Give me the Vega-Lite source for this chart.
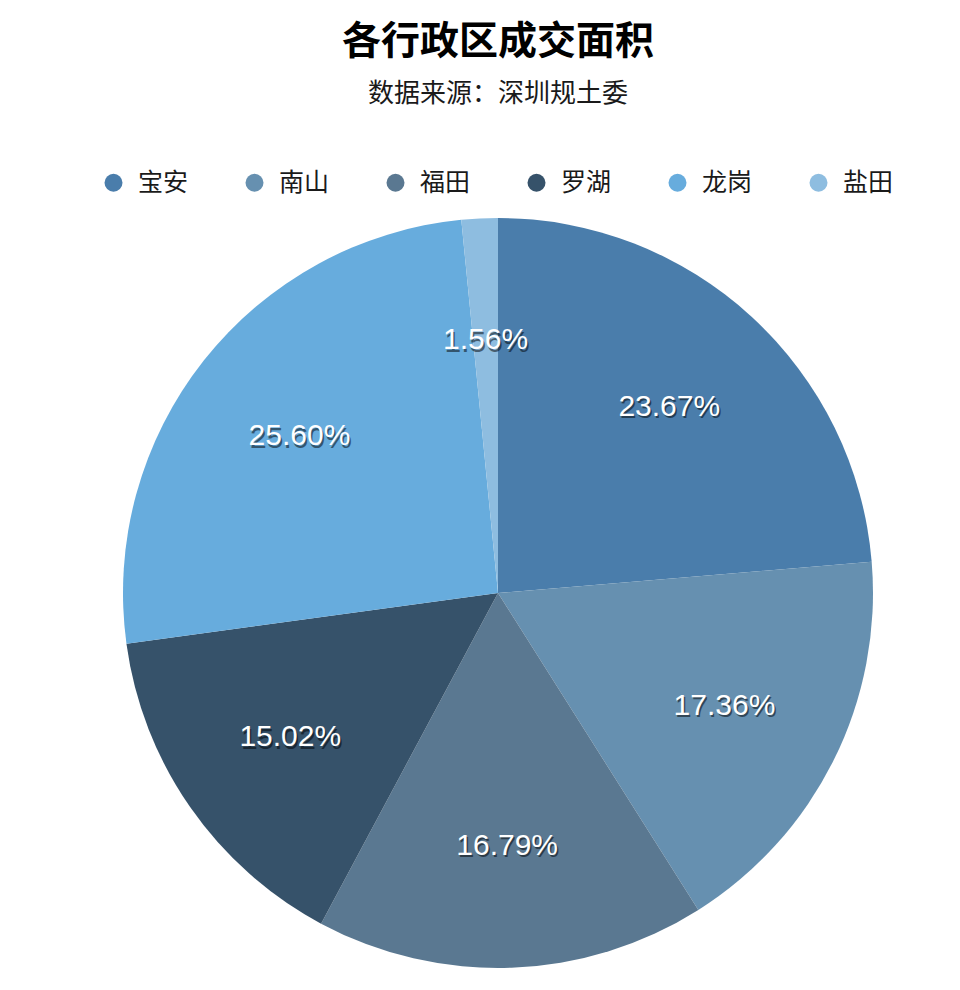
{
  "$schema": "https://vega.github.io/schema/vega-lite/v6.json",
  "width": 924,
  "height": 750,
  "autosize": "none",
  "padding": {"top": 218, "left": 36, "right": 0, "bottom": 22},
  "background": "#ffffff",
  "title": {
    "text": "各行政区成交面积",
    "subtitle": "数据来源：深圳规土委",
    "anchor": "middle",
    "font": "Noto Sans CJK SC",
    "fontSize": 39,
    "fontWeight": "bold",
    "color": "#000000",
    "subtitleFont": "Noto Sans CJK SC",
    "subtitleFontSize": 26,
    "subtitleColor": "#1a1a1a",
    "subtitlePadding": 19,
    "offset": 63
  },
  "data": {
    "values": [
      {"district": "宝安", "value": 23.67, "label": "23.67%", "rank": 1},
      {"district": "南山", "value": 17.36, "label": "17.36%", "rank": 2},
      {"district": "福田", "value": 16.79, "label": "16.79%", "rank": 3},
      {"district": "罗湖", "value": 15.02, "label": "15.02%", "rank": 4},
      {"district": "龙岗", "value": 25.60, "label": "25.60%", "rank": 5},
      {"district": "盐田", "value": 1.56, "label": "1.56%", "rank": 6}
    ]
  },
  "encoding": {
    "theta": {"field": "value", "type": "quantitative", "stack": true},
    "order": {"field": "rank", "type": "quantitative"}
  },
  "layer": [
    {
      "mark": {"type": "arc", "outerRadius": 375, "strokeWidth": 0},
      "encoding": {
        "color": {
          "field": "district",
          "type": "nominal",
          "sort": ["宝安", "南山", "福田", "罗湖", "龙岗", "盐田"],
          "scale": {
            "domain": ["宝安", "南山", "福田", "罗湖", "龙岗", "盐田"],
            "range": ["#4a7dab", "#6690b0", "#5a7891", "#36526a", "#67acdd", "#8ebde0"]
          },
          "legend": {
            "orient": "none",
            "legendX": 65,
            "legendY": -48,
            "direction": "horizontal",
            "columns": 6,
            "title": null,
            "padding": 0,
            "symbolType": "circle",
            "symbolSize": 324,
            "symbolStrokeWidth": 0,
            "symbolOpacity": 1,
            "labelFont": "Noto Sans CJK SC",
            "labelFontSize": 25,
            "labelColor": "#1a1a1a",
            "labelOffset": 12,
            "columnPadding": 53,
            "labelLimit": 200
          }
        }
      }
    },
    {
      "mark": {"type": "text", "radius": 253, "font": "Liberation Sans", "fontSize": 30, "fill": "#000000", "opacity": 0.5, "dx": 1.5, "dy": 2.5},
      "encoding": {"text": {"field": "label", "type": "nominal"}}
    },
    {
      "mark": {"type": "text", "radius": 253, "font": "Liberation Sans", "fontSize": 30, "fill": "#ffffff"},
      "encoding": {"text": {"field": "label", "type": "nominal"}}
    }
  ]
}
